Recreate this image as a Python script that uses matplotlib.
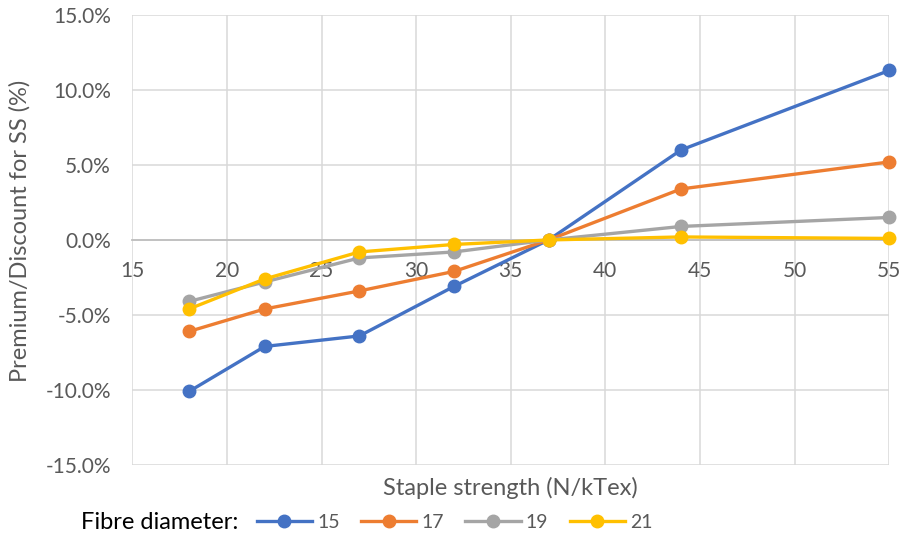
import matplotlib
matplotlib.use("Agg")
import matplotlib.pyplot as plt
from matplotlib.ticker import FuncFormatter, MultipleLocator

plt.rcParams['font.family'] = ['Lato', 'DejaVu Sans']

staple_strength = [18, 22, 27, 32, 37, 44, 55]
diameters = ["15", "17", "19", "21"]
premium_15 = [-10.1, -7.1, -6.4, -3.1, 0.0, 6.0, 11.3]
premium_17 = [-6.1, -4.6, -3.4, -2.1, 0.0, 3.4, 5.2]
premium_19 = [-4.1, -2.8, -1.2, -0.8, 0.0, 0.9, 1.5]
premium_21 = [-4.6, -2.6, -0.8, -0.3, 0.0, 0.2, 0.1]
colors = ["#4472C4", "#ED7D31", "#A5A5A5", "#FFC000"]

fig = plt.figure(figsize=(9, 5.35), dpi=100)
ax = fig.add_axes([0.147, 0.131, 0.841, 0.841])

handles = []
for vals, col, lab in zip([premium_15, premium_17, premium_19, premium_21], colors, diameters):
    h, = ax.plot(staple_strength, vals, color=col, lw=2.4, marker='o', ms=9,
                 label=lab, zorder=3, clip_on=False)
    handles.append(h)

ax.set_xlim(15, 55)
ax.set_ylim(-15, 15)
ax.xaxis.set_major_locator(MultipleLocator(5))
ax.yaxis.set_major_locator(MultipleLocator(5))
ax.yaxis.set_major_formatter(FuncFormatter(lambda v, p: f"{v:.1f}%"))
ax.grid(True, color="#D9D9D9", lw=1.1, zorder=0)
ax.set_axisbelow(True)

for s in ['top', 'right', 'left']:
    ax.spines[s].set_visible(False)
ax.spines['bottom'].set_position(('data', 0))
ax.spines['bottom'].set_color("#BFBFBF")
ax.spines['bottom'].set_linewidth(1.3)
ax.spines['bottom'].set_zorder(1)
ax.tick_params(length=0, labelsize=15, colors="#595959")
ax.tick_params(axis='y', pad=15.5)
ax.tick_params(axis='x', pad=15)

fig.text(0.022, 0.568, "Premium/Discount for SS (%)", fontsize=17, color="#595959",
         rotation=90, ha='center', va='center')
fig.text(0.567, 0.088, "Staple strength (N/kTex)", fontsize=17, color="#595959",
         ha='center', va='center')

fig.text(0.090, 0.024, "Fibre diameter:", fontsize=17, color="#000000",
         ha='left', va='center')
leg = fig.legend(handles=handles, loc='center left', bbox_to_anchor=(0.285, 0.024),
                 ncol=4, frameon=False, fontsize=14, handlelength=2.85,
                 handletextpad=0.26, columnspacing=1.1, borderaxespad=0, borderpad=0)
for t in leg.get_texts():
    t.set_color("#595959")

fig.savefig("out.png", dpi=100)
